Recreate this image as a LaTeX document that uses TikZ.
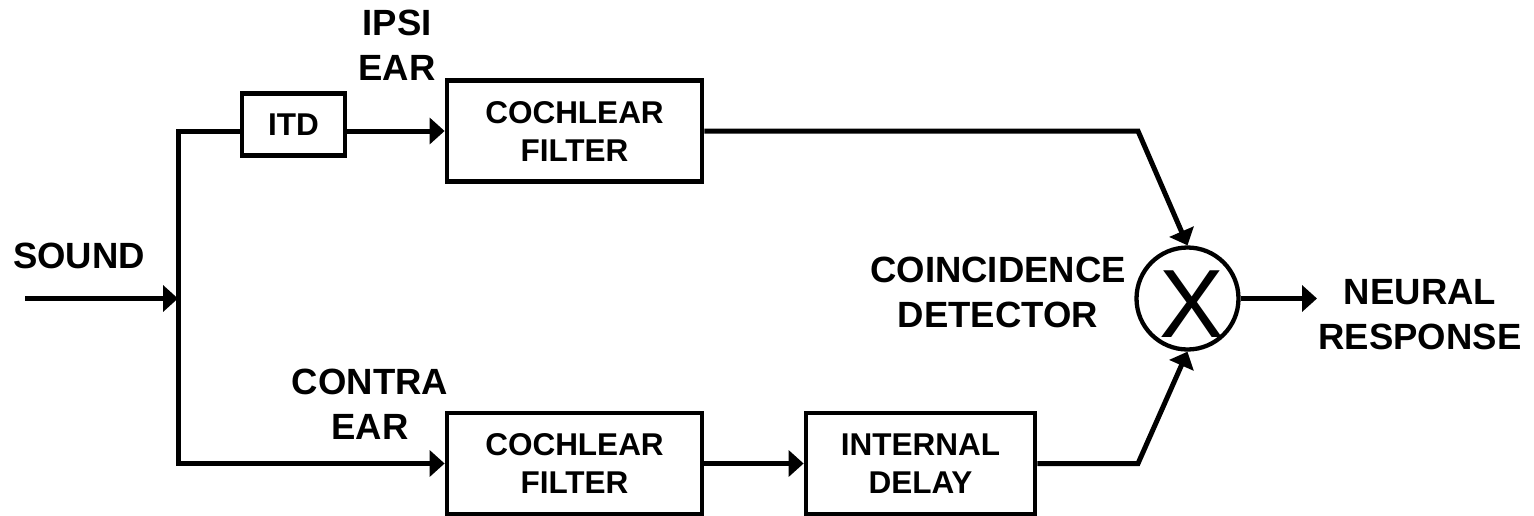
\documentclass[tikz,border=0pt]{standalone}
\usepackage{fontspec}
\setmainfont{Liberation Sans}
\usetikzlibrary{arrows.meta}
\begin{document}
\begin{tikzpicture}[x=1pt,y=-1pt,
  blk/.style={draw,line width=4.8pt,inner sep=0pt,align=center,font=\fontsize{31.5}{38}\selectfont\bfseries},
  lbl/.style={align=center,inner sep=0pt,font=\fontsize{36.5}{45}\selectfont\bfseries},
  conn/.style={line width=5pt},
  arr/.style={conn,-{Triangle[length=15pt,width=26pt]}}]
\useasboundingbox (0,0) rectangle (1534,515);
% blocks
\node[blk,minimum width=103pt,minimum height=62pt] (itd) at (293.5,124.5) {ITD};
\node[blk,minimum width=255pt,minimum height=101pt] (cf1) at (574.5,131) {COCHLEAR\\FILTER};
\node[blk,minimum width=255pt,minimum height=101pt] (cf2) at (574.5,463.5) {COCHLEAR\\FILTER};
\node[blk,minimum width=229pt,minimum height=101pt] (dly) at (920.5,463.5) {INTERNAL\\DELAY};
\node[draw,circle,line width=4.3pt,minimum size=102pt,inner sep=0pt] (cd) at (1187.5,298.5) {};
\node[inner sep=0pt,font=\fontsize{97}{97}\selectfont] (xmark) at (1192,304) {X};
% labels
\node[lbl] (sound) at (79,256) {SOUND};
\node[lbl] (ipsi) at (397,45.5) {IPSI\\EAR};
\node[lbl] (contra) at (370,404.5) {CONTRA\\EAR};
\node[lbl] (cdl) at (998,292.5) {COINCIDENCE\\DETECTOR};
\node[lbl] (nr) at (1420,314.5) {NEURAL\\RESPONSE};
% connector points
\coordinate (start) at (25,298.5);
\coordinate (split) at (178,298.5);
\coordinate (tl) at (178,131);
\coordinate (bl) at (178,463.5);
\coordinate (tr) at (1138,131);
\coordinate (br) at (1138,463.5);
\coordinate (out) at (1317,298.5);
% connectors
\draw[arr] (start) -- (split);
\draw[arr] (itd.west |- tl) -- (tl) -- (bl) -- (cf2.west);
\draw[arr] (itd.east |- tl) -- (cf1.west);
\draw[arr] (cf1.east) -- (tr) -- (cd.north);
\draw[arr] (cf2.east) -- (dly.west);
\draw[arr] (dly.east) -- (br) -- (cd.south);
\draw[arr] (cd.east) -- (out);
\end{tikzpicture}
\end{document}
